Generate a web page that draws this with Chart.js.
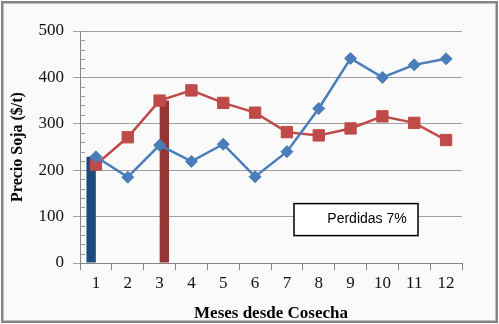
<!DOCTYPE html>
<html>
<head>
<meta charset="utf-8">
<script src="https://cdn.jsdelivr.net/npm/chart.js@4.4.0/dist/chart.umd.min.js"></script>
<style>
    body { margin: 0; background: #ffffff; }
    #wrap { position: relative; width: 499px; height: 324px; }
</style>
</head>
<body>
<div id="wrap"><canvas id="myChart" width="499" height="324"></canvas></div>
<script>
// data
const months = ['1', '2', '3', '4', '5', '6', '7', '8', '9', '10', '11', '12'];
const precioSerieA = [229, 185, 254, 219, 256, 186, 240, 333, 441, 400, 427, 440];
const precioSerieB = [212, 271, 350, 372, 345, 324, 282, 275, 290, 316, 302, 265];
const barraCosecha = [229, null, null, null, null, null, null, null, null, null, null, null];
const barraVenta = [null, null, 350, null, null, null, null, null, null, null, null, null];
const yTicks = [0, 100, 200, 300, 400, 500];
const boxText = 'Perdidas 7%';

const serif = "'Liberation Serif', 'Times New Roman', serif";

// fondo, borde, marcas menores y recuadro
const decoPlugin = {
    id: 'deco',
    beforeDraw(chart) {
        const ctx = chart.ctx;
        ctx.save();
        ctx.fillStyle = '#ffffff';
        ctx.fillRect(0, 0, chart.width, chart.height);
        ctx.fillStyle = '#fafafa';
        ctx.fillRect(2, 2, chart.width - 4, chart.height - 4);
        ctx.strokeStyle = '#858585';
        ctx.lineWidth = 2.5;
        ctx.strokeRect(2.25, 2.25, chart.width - 4.5, chart.height - 4.5);
        ctx.restore();
    },
    afterDraw(chart) {
        const ctx = chart.ctx;
        const y = chart.scales.y;
        const area = chart.chartArea;
        ctx.save();
        ctx.strokeStyle = '#9a9a9a';
        ctx.lineWidth = 1;
        for (let v = 20; v < 500; v += 20) {
            if (v % 100 === 0) continue;
            const py = Math.round(y.getPixelForValue(v)) + 0.5;
            ctx.beginPath();
            ctx.moveTo(area.left, py);
            ctx.lineTo(area.left + 5, py);
            ctx.stroke();
        }

        // recuadro de texto
        const bx = area.right - 168;
        const by = y.getPixelForValue(128);
        const bw = 124;
        const bh = 32;
        ctx.fillStyle = '#ffffff';
        ctx.fillRect(bx, by, bw, bh);
        ctx.strokeStyle = '#000000';
        ctx.lineWidth = 1.5;
        ctx.strokeRect(bx, by, bw, bh);
        ctx.fillStyle = '#000000';
        ctx.font = '14px "Liberation Sans"';
        ctx.textAlign = 'center';
        ctx.textBaseline = 'middle';
        ctx.fillText(boxText, bx + bw / 2 + 11, by + bh / 2);
        ctx.restore();
    }
};

function showChart() {
    const ctx = document.getElementById('myChart');
    const myChart = new Chart(ctx, {
        type: 'bar',
        data: {
            labels: months,
            datasets: [{
                type: 'line',
                label: 'Serie A',
                data: precioSerieA,
                borderColor: '#4a7ebb',
                backgroundColor: '#4a7ebb',
                borderWidth: 2.5,
                pointStyle: 'rectRot',
                pointRadius: 6,
                pointBorderWidth: 1,
                tension: 0,
                order: 0
            }, {
                type: 'line',
                label: 'Serie B',
                data: precioSerieB,
                borderColor: '#be4b48',
                backgroundColor: '#be4b48',
                borderWidth: 2.5,
                pointStyle: 'rect',
                pointRadius: 8,
                pointBorderWidth: 1,
                tension: 0,
                order: 1
            }, {
                label: 'Cosecha',
                data: barraCosecha,
                backgroundColor: '#1f4a7e',
                categoryPercentage: 0.6,
                barPercentage: 0.98,
                order: 2
            }, {
                label: 'Venta',
                data: barraVenta,
                backgroundColor: '#943634',
                categoryPercentage: 0.6,
                barPercentage: 0.98,
                order: 2
            }]
        },
        options: {
            responsive: false,
            animation: false,
            font: { family: serif },
            layout: {
                padding: { left: 0, right: 37, top: 31, bottom: 0 }
            },
            plugins: {
                legend: { display: false },
                tooltip: { enabled: false }
            },
            scales: {
                x: {
                    offset: true,
                    grid: {
                        offset: true,
                        drawOnChartArea: false,
                        color: '#868686',
                        tickLength: 7
                    },
                    border: { color: '#868686' },
                    ticks: {
                        color: '#111111',
                        padding: 3,
                        font: { family: 'Liberation Serif', size: 17, weight: 'normal' }
                    },
                    title: {
                        display: true,
                        text: 'Meses desde Cosecha',
                        color: '#000000',
                        padding: { top: 6, bottom: 0 },
                        font: { family: serif, size: 17, weight: 'bold' }
                    },
                    afterFit: function (scale) {
                        scale.height = 61;
                    }
                },
                y: {
                    min: 0,
                    max: 500,
                    afterBuildTicks: function (scale) {
                        scale.ticks = yTicks.map(function (v) { return { value: v }; });
                    },
                    grid: {
                        color: '#a0a0a0',
                        tickLength: 7
                    },
                    border: { color: '#868686' },
                    ticks: {
                        color: '#111111',
                        padding: 9,
                        font: { family: 'Liberation Serif', size: 17, weight: 'normal' }
                    },
                    title: {
                        display: true,
                        text: 'Precio Soja ($/t)',
                        color: '#000000',
                        padding: { top: 8, bottom: 0 },
                        font: { family: serif, size: 16, weight: 'bold' }
                    },
                    afterFit: function (scale) {
                        scale.width = 80;
                    }
                }
            }
        },
        plugins: [decoPlugin]
    });
    Chart.defaults.font.family = serif;
    myChart.update();
}

showChart();
</script>
</body>
</html>
